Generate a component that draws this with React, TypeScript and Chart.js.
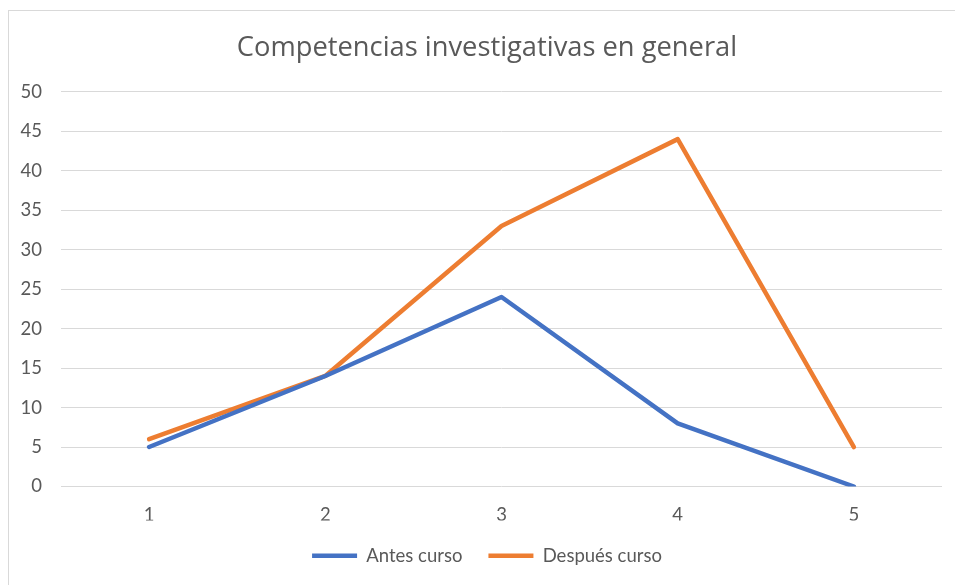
import React, { useEffect, useRef } from "react";
import { Chart, registerables } from "chart.js";

Chart.register(...registerables);

const categories = ["1", "2", "3", "4", "5"];
const antesCurso = [5, 14, 24, 8, 0];
const despuesCurso = [6, 14, 33, 44, 5];
const seriesNames = ["Antes curso", "Después curso"];
const chartTitle = "Competencias investigativas en general";

const FONT = "Lato, 'Open Sans', sans-serif";
const TITLE_FONT = "'Open Sans', Lato, sans-serif";
const TEXT = "#595959";

export default function App() {
  const ref = useRef<HTMLCanvasElement | null>(null);

  useEffect(() => {
    if (!ref.current) return;
    document.documentElement.style.overflow = "hidden";
    document.body.style.overflow = "hidden";
    const chart = new Chart(ref.current, {
      type: "line",
      data: {
        labels: categories,
        datasets: [
          {
            label: seriesNames[0],
            data: antesCurso,
            borderColor: "#4472C4",
            backgroundColor: "#4472C4",
            borderWidth: 4.5,
            pointRadius: 0,
            borderCapStyle: "round",
            borderJoinStyle: "round",
            tension: 0,
          },
          {
            label: seriesNames[1],
            data: despuesCurso,
            borderColor: "#ED7D31",
            backgroundColor: "#ED7D31",
            borderWidth: 4.5,
            pointRadius: 0,
            borderCapStyle: "round",
            borderJoinStyle: "round",
            tension: 0,
          },
        ],
      },
      options: {
        animation: false,
        responsive: false,
        maintainAspectRatio: false,
        layout: { padding: { left: 0, right: 0, top: 0, bottom: 10 } },
        plugins: {
          title: {
            display: true,
            text: chartTitle,
            color: TEXT,
            font: { family: TITLE_FONT, size: 27.3, weight: "normal" },
            padding: { top: 21, bottom: 27 },
          },
          legend: {
            position: "bottom",
            labels: {
              usePointStyle: true,
              pointStyle: "line",
              pointStyleWidth: 45,
              color: TEXT,
              font: { family: FONT, size: 18.5 },
              padding: 26,
            },
          },
          tooltip: { enabled: false },
        },
        scales: {
          x: {
            offset: true,
            grid: { display: false, drawTicks: false },
            border: { display: false },
            ticks: {
              color: TEXT,
              font: { family: FONT, size: 18.5 },
              padding: 17,
            },
            afterFit: (s: any) => {
              s.height = 34;
            },
          },
          y: {
            min: 0,
            max: 50,
            ticks: {
              stepSize: 5,
              color: TEXT,
              font: { family: FONT, size: 18.5 },
              padding: 19,
            },
            grid: { color: "#d9d9d9", lineWidth: 1, drawTicks: false },
            border: { display: false },
            afterFit: (s: any) => {
              s.width = 52;
            },
          },
          yRight: {
            position: "right",
            display: true,
            grid: { display: false, drawTicks: false },
            ticks: { display: false },
            border: { display: false },
            afterFit: (s: any) => {
              s.width = 23;
            },
          },
        },
      },
    });
    return () => chart.destroy();
  }, []);

  return (
    <div
      style={{
        position: "fixed",
        left: 8,
        top: 10,
        width: 947,
        height: 575,
        overflow: "hidden",
        borderLeft: "1px solid #d9d9d9",
        borderTop: "1px solid #d9d9d9",
        background: "#fff",
      }}
    >
      <canvas ref={ref} width={956} height={574} style={{ display: "block" }} />
    </div>
  );
}
